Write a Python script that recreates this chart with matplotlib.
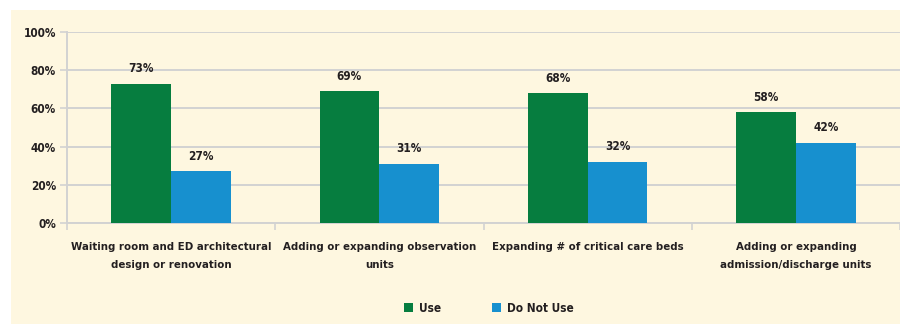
import numpy as np
import matplotlib
matplotlib.use("Agg")
from matplotlib import pyplot as plt
from matplotlib.patches import Rectangle

categories = ["Waiting room and ED architectural\ndesign or renovation",
              "Adding or expanding observation\nunits",
              "Expanding # of critical care beds",
              "Adding or expanding\nadmission/discharge units"]
use = [73, 69, 68, 58]
do_not_use = [27, 31, 32, 42]
yticks = [0, 20, 40, 60, 80, 100]

green = "#067D3F"
blue = "#1790CF"
cream = "#FEF7E0"
grid_col = "#D2D2D2"
txt = "#231F20"

plt.rcParams['font.family'] = ['DejaVu Sans']
plt.rcParams['font.stretch'] = 'condensed'
plt.rcParams['font.weight'] = 'bold'

fig = plt.figure(figsize=(9, 3.24), dpi=100)
fig.patch.set_facecolor("white")
# cream panel behind the chart
fig.patches.append(Rectangle((11 / 900, 0), 889 / 900, 1 - 10 / 324,
                             transform=fig.transFigure, facecolor=cream,
                             edgecolor="none", zorder=-5))

ax = fig.add_axes([67 / 900, 1 - 223 / 324, 833 / 900, 191 / 324])
ax.set_facecolor("none")

x = np.arange(len(categories))
w = 0.287
b1 = ax.bar(x - w / 2, use, w, color=green, label="Use", zorder=3)
b2 = ax.bar(x + w / 2, do_not_use, w, color=blue, label="Do Not Use", zorder=3)

for bars, vals in ((b1, use), (b2, do_not_use)):
    for r, v in zip(bars, vals):
        ax.text(r.get_x() + r.get_width() / 2, v + 4.5, f"{v}%", ha="center",
                va="bottom", fontsize=8.5, color=txt, fontweight="bold")

ax.set_xlim(-0.5, len(categories) - 0.5)
ax.set_ylim(0, 100)
ax.set_yticks(yticks)
ax.set_yticklabels([f"{t}%" for t in yticks], fontsize=8.5, color=txt, fontweight="bold")
ax.yaxis.grid(True, color=grid_col, linewidth=1.4, zorder=1)
ax.tick_params(axis="y", length=5, color=grid_col, width=1.2, pad=3)

ax.set_xticks(x)
ax.set_xticklabels(categories, fontsize=8.2, color=txt, fontweight="bold", linespacing=2.0)
ax.tick_params(axis="x", length=0, pad=14)
ax.set_xticks(np.arange(-0.5, len(categories)), minor=True)
ax.tick_params(axis="x", which="minor", length=5, color=grid_col, width=1.2)

for s in ("top", "right"):
    ax.spines[s].set_visible(False)
for s in ("left", "bottom"):
    ax.spines[s].set_color(grid_col)
    ax.spines[s].set_linewidth(1.4)

leg = fig.legend(handles=[b1, b2], loc="center", bbox_to_anchor=(0.543, 1 - 308 / 324),
                 ncol=2, frameon=False, fontsize=8.5, handlelength=0.8, handleheight=0.8,
                 columnspacing=4.3, handletextpad=0.5)
for t in leg.get_texts():
    t.set_color(txt)

fig.savefig("out.png", dpi=100, facecolor=fig.get_facecolor())
